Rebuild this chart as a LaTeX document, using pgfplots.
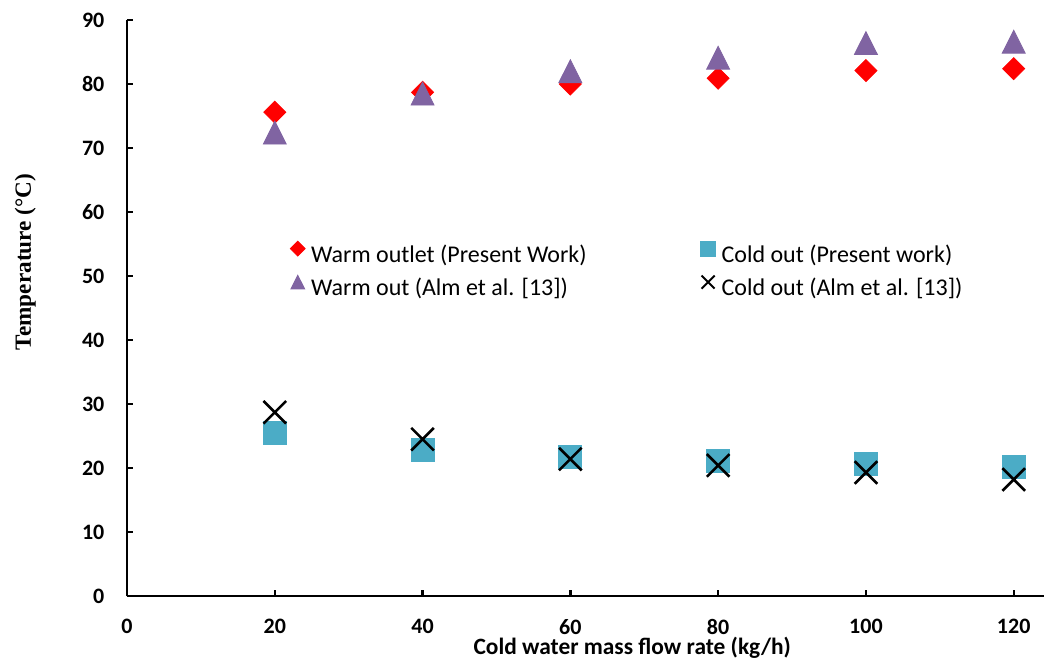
\documentclass[border=0pt]{standalone}
\usepackage{fontspec}
\setmainfont{Carlito}
\newfontfamily\timesfont{Liberation Serif}
\usepackage{pgfplots}
\pgfplotsset{compat=1.18}
\definecolor{cred}{RGB}{255,0,0}
\definecolor{cpurple}{RGB}{128,100,162}
\definecolor{ccyan}{RGB}{75,172,198}
\pgfplotsset{leg/.style={legend image code/.code={\draw[##1,#1] plot coordinates {(0pt,3.8pt)};}}}
\begin{document}
\begin{tikzpicture}
\begin{axis}[
  at={(0,0)}, anchor=south west,
  scale only axis, width=458.5pt, height=288pt,
  xmin=0, xmax=124.1, ymin=0, ymax=90,
  xtick={0,20,...,120}, ytick={0,10,...,90},
  axis lines*=left,
  axis line style={line width=1.4pt, black},
  tick style={line width=1.2pt, black},
  tick align=inside, major tick length=3pt,
  /pgf/number format/assume math mode=true,
  ticklabel style={font=\bfseries\fontsize{11}{13}\selectfont},
  yticklabel style={xshift=-7.8pt},
  xticklabel style={yshift=-8pt},
  xlabel={Cold water mass flow rate (kg/h)},
  xlabel style={font=\bfseries\fontsize{11.7}{13}\selectfont, at={(axis description cs:0.551,-0.1024)}, anchor=base},
  ylabel={Temperature (°C)},
  ylabel style={font=\timesfont\bfseries\fontsize{11.6}{13}\selectfont, at={(axis description cs:-0.111,0.580)}, anchor=center},
  clip=false,
  legend columns=2,
  legend cell align=left,
  legend style={at={(axis cs:22.06,50.8)}, anchor=west, draw=none, fill=none, inner sep=0pt,
    font=\fontsize{12}{14}\selectfont,
    nodes={inner sep=0pt, text height=8.5pt, text depth=2.5pt},
    row sep=4pt,
    /tikz/every odd column/.append style={column sep=3pt},
    /tikz/every even column/.append style={column sep=57pt}},
]
\addplot[only marks, mark=square*, color=cred, mark size=3.9pt, mark options={rotate=45},
  leg={mark size=2.6pt}]
  coordinates {(20,75.6) (40,78.7) (60,80.0) (80,80.9) (100,82.1) (120,82.4)};
\addlegendentry{Warm outlet (Present Work)}
\addplot[only marks, mark=square*, color=ccyan, mark size=5.75pt,
  leg={mark size=3.75pt}]
  coordinates {(20,25.5) (40,22.9) (60,21.8) (80,21.1) (100,20.6) (120,20.1)};
\addlegendentry{Cold out (Present work)}
\addplot[only marks, mark=triangle*, color=cpurple, mark size=6.64pt, mark options={yshift=-1.9pt, yscale=1.15},
  leg={mark size=4pt, mark options={yshift=-1.15pt, yscale=1.15}}]
  coordinates {(20,72.4) (40,78.5) (60,82.0) (80,84.1) (100,86.4) (120,86.6)};
\addlegendentry{Warm out (Alm et al. [13])}
\addplot[only marks, mark=x, color=black, mark size=8pt, line width=1.3pt,
  leg={mark size=4.6pt, line width=1pt}]
  coordinates {(20,28.7) (40,24.5) (60,21.4) (80,20.4) (100,19.3) (120,18.2)};
\addlegendentry{Cold out (Alm et al. [13])}
\end{axis}
\pgfresetboundingbox
\useasboundingbox (-63.5pt,-32pt) rectangle (458.5pt,298pt);
\end{tikzpicture}
\end{document}
